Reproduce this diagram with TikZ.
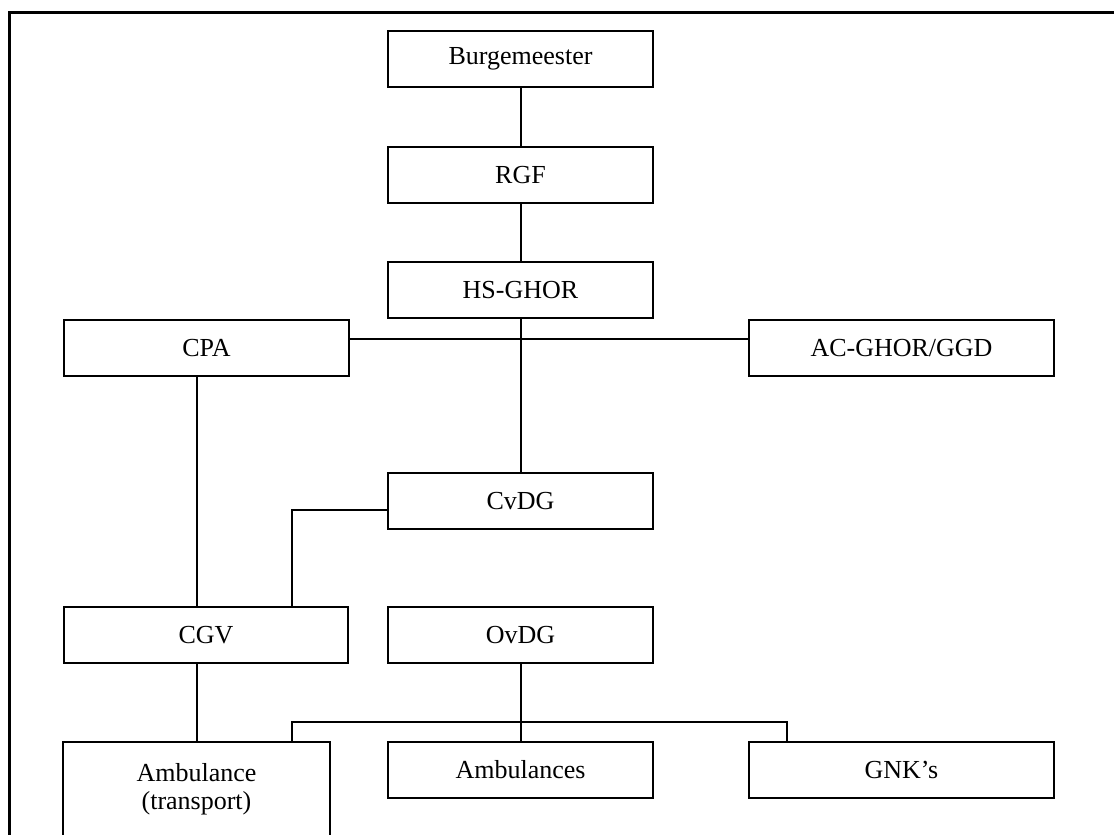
\documentclass[tikz,border=0pt]{standalone}
\usepackage{fontspec}
\setmainfont{Liberation Serif}
\usetikzlibrary{calc,positioning}
\tikzset{
  orgbox/.style={draw,line width=1pt,inner sep=2pt,align=center,minimum height=28pt,font=\fontsize{13}{14}\selectfont},
  midbox/.style={orgbox,minimum width=132.5pt},
  sidebox/.style={orgbox,minimum width=142.5pt},
  farbox/.style={orgbox,minimum width=152.5pt},
  orgline/.style={line width=1pt},
  pageframe/.style={line width=1.5pt}
}

\begin{document}
\begin{tikzpicture}[x=0.5pt,y=-0.5pt]
  \useasboundingbox (0,0) rectangle (1114,835);
  \draw[pageframe] (9,835) -- (9,12) -- (1114,12);

  \node[midbox] (burg) at (520.5,59) {Burgemeester};
  \node[midbox,below=29pt of burg] (rgf) {RGF};
  \node[midbox,below=28.5pt of rgf] (hsghor) {HS-GHOR};
  \node[sidebox,below left=0pt and 18.5pt of hsghor] (cpa) {CPA};
  \node[farbox,below right=0pt and 47pt of hsghor] (acghor) {AC-GHOR/GGD};
  \node[midbox,below=76.5pt of hsghor] (cvdg) {CvDG};
  \node[midbox,below=38pt of cvdg] (ovdg) {OvDG};
  \node[sidebox,minimum width=142pt,left=19pt of ovdg] (cgv) {CGV};
  \node[midbox,below=38.5pt of ovdg] (ambs) {Ambulances};
  \node[farbox,right=47pt of ambs] (gnk) {GNK’s};
  \node[orgbox,minimum width=133.5pt,minimum height=47.5pt,left=28pt of ambs.north west,anchor=north east] (amt) {Ambulance\\(transport)};

  \draw[orgline] (burg) -- (rgf);
  \draw[orgline] (rgf) -- (hsghor);
  \draw[orgline] (hsghor) -- (cvdg);
  \coordinate[below=10pt of hsghor] (cpabar);
  \draw[orgline] (cpa.east |- cpabar) -- (acghor.west |- cpabar);
  \draw[orgline] (cpa.south -| amt.north) -- (cgv.north -| amt.north);
  \draw[orgline] (cgv.south -| amt.north) -- (amt.north);
  \coordinate[left=28.5pt of cgv.north east] (cgvdrop);
  \draw[orgline] ([yshift=-4.5pt]cvdg.west) -| (cgvdrop);
  \draw[orgline] (ovdg) -- (ambs);
  \coordinate[above=9.5pt of ambs.north] (bus);
  \draw[orgline] (amt.north -| cgvdrop) |- (bus) -| ([xshift=19.5pt]gnk.north west);
\end{tikzpicture}
\end{document}
